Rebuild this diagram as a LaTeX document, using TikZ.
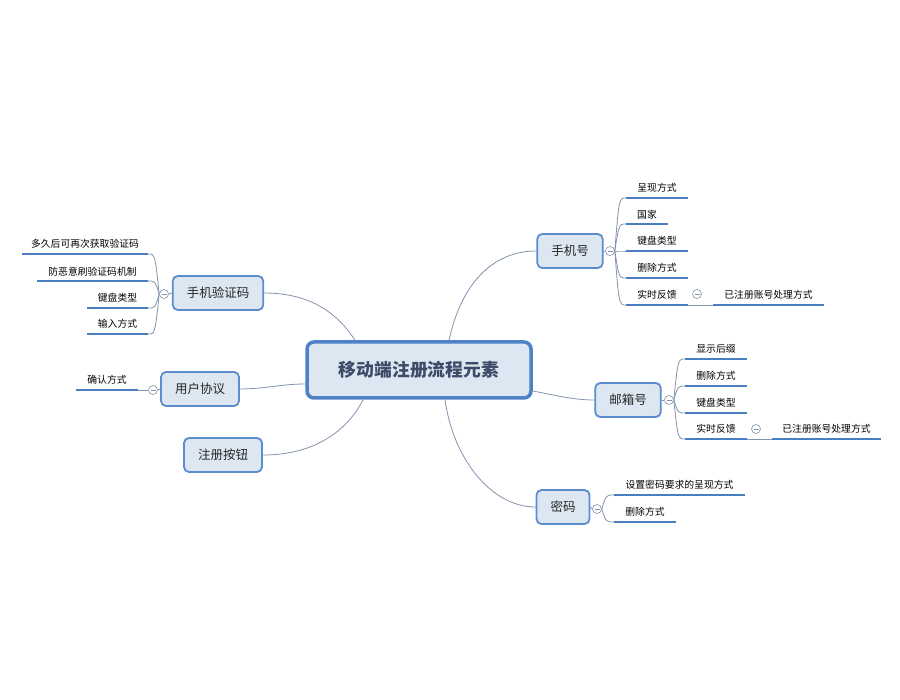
\documentclass[tikz,border=0pt]{standalone}
\usepackage{fontspec}
\newfontfamily\cjk{Noto Sans CJK SC}
\definecolor{rootblue}{HTML}{4F81C9}
\definecolor{boxblue}{HTML}{5B8CD0}
\definecolor{boxfill}{HTML}{DDE7F2}
\definecolor{roottext}{HTML}{3C4B68}
\definecolor{linkgray}{HTML}{8393AC}
\definecolor{ulblue}{HTML}{4A7EC2}
\begin{document}
\begin{tikzpicture}[x=1pt, y=-1pt,
   every node/.style={font=\cjk},
   root/.style={draw=rootblue, line width=3.5pt, fill=boxfill, rounded corners=7pt,
     minimum width=224pt, minimum height=56pt, text=roottext,
     font=\cjk\bfseries\fontsize{17.8}{20}\selectfont},
   topic/.style={draw=boxblue, line width=1.8pt, fill=boxfill, rounded corners=5pt,
     minimum height=34pt, inner xsep=14pt, text=black!85,
     font=\cjk\fontsize{12.5}{14}\selectfont},
   leaf/.style={inner sep=0pt, text=black, font=\cjk\fontsize{9.8}{11}\selectfont},
   link/.style={draw=linkgray, line width=0.8pt},
   uline/.style={draw=ulblue, line width=2.4pt},
   fold/.style={circle, draw=linkgray, fill=white, line width=0.6pt, minimum size=9pt,
     inner sep=0pt, path picture={\draw[linkgray, line width=0.6pt]
       ([xshift=2pt]path picture bounding box.west) -- ([xshift=-2pt]path picture bounding box.east);}}]
\useasboundingbox (0,0) rectangle (900,700);

% topics
\node[root]  (root)  at (419,370) {移动端注册流程元素};
\node[topic] (phone) at (570,251) {手机号};
\node[topic] (mail)  at (628,400) {邮箱号};
\node[topic] (pwd)   at (563,507) {密码};
\node[topic] (sms)   at (218,293) {手机验证码};
\node[topic] (agree) at (200,389) {用户协议};
\node[topic] (btn)   at (223,455) {注册按钮};

% fold buttons
\node[fold] (phf)  at (610,251) {};
\node[fold] (mlf)  at (669,400) {};
\node[fold] (pwf)  at (597,509) {};
\node[fold] (smf)  at (164,294) {};
\node[fold] (agf)  at (153,390) {};
\node[fold] (phsf) at (697,294) {};
\node[fold] (mlsf) at (756,429) {};

% root to topics
\draw[link] ([xshift=30pt]root.north) .. controls +(12,-55) and +(-45,0) .. (phone.west);
\draw[link] ([yshift=-21pt]root.east) .. controls +(22,4) and +(-22,0) .. (mail.west);
\draw[link] ([xshift=26pt]root.south) .. controls +(8,58) and +(-45,0) .. (pwd.west);
\draw[link] (sms.east) .. controls +(45,0) and +(-18,-28) .. ([xshift=-64pt]root.north);
\draw[link] (agree.east) .. controls +(25,0) and +(-25,0) .. ([yshift=-14pt]root.west);
\draw[link] (btn.east) .. controls +(55,0) and +(-14,28) .. ([xshift=-56pt]root.south);

% topics to fold buttons
\draw[link] (phone.east) -- (phf.west);
\draw[link] (mail.east) -- (mlf.west);
\draw[link] (pwd.east) -- (pwf.west);
\draw[link] (sms.west) -- (smf.east);
\draw[link] (agree.west) -- (agf.east);

% 手机号
\foreach \y/\w/\t [count=\i] in {198/62/呈现方式, 224/42/国家, 251/62/键盘类型,
    278/62/删除方式, 305/62/实时反馈}{
  \coordinate (ph\i) at (626,\y);
  \draw[link] (phf.east) .. controls (619,\y) .. (ph\i);
  \draw[uline] (ph\i) -- node[leaf, above=4pt] (pht\i) {\t} ++(\w,0) coordinate (ph\i e);
}
\coordinate (phs) at (713,305);
\draw[link] (ph5e) -- (phs);
\draw[uline] (phs) -- node[leaf, above=4pt] (phst) {已注册账号处理方式} ++(111,0);

% 邮箱号
\foreach \y/\w/\t [count=\i] in {359/62/显示后缀, 386/62/删除方式, 413/62/键盘类型,
    439/62/实时反馈}{
  \coordinate (ml\i) at (685,\y);
  \draw[link] (mlf.east) .. controls (678,\y) .. (ml\i);
  \draw[uline] (ml\i) -- node[leaf, above=4pt] (mlt\i) {\t} ++(\w,0) coordinate (ml\i e);
}
\coordinate (mls) at (772,439);
\draw[link] (ml4e) -- (mls);
\draw[uline] (mls) -- node[leaf, above=4pt] (mlst) {已注册账号处理方式} ++(109,0);

% 密码
\foreach \y/\w/\t [count=\i] in {495/131/设置密码要求的呈现方式, 522/62/删除方式}{
  \coordinate (pw\i) at (614,\y);
  \draw[link] (pwf.east) .. controls (606,\y) .. (pw\i);
  \draw[uline] (pw\i) -- node[leaf, above=4pt] (pwt\i) {\t} ++(\w,0);
}

% 手机验证码
\foreach \y/\w/\t [count=\i] in {254/126/多久后可再次获取验证码, 281/111/防恶意刷验证码机制,
    308/61/键盘类型, 334/61/输入方式}{
  \coordinate (sm\i) at (148,\y);
  \draw[link] (smf.west) .. controls (155,\y) .. (sm\i);
  \draw[uline] (sm\i) -- node[leaf, above=4pt] (smt\i) {\t} ++(-\w,0);
}

% 用户协议
\coordinate (ag1) at (138,390);
\draw[link] (agf.west) -- (ag1);
\draw[uline] (ag1) -- node[leaf, above=4pt] (agt1) {确认方式} ++(-62,0);
\end{tikzpicture}
\end{document}
